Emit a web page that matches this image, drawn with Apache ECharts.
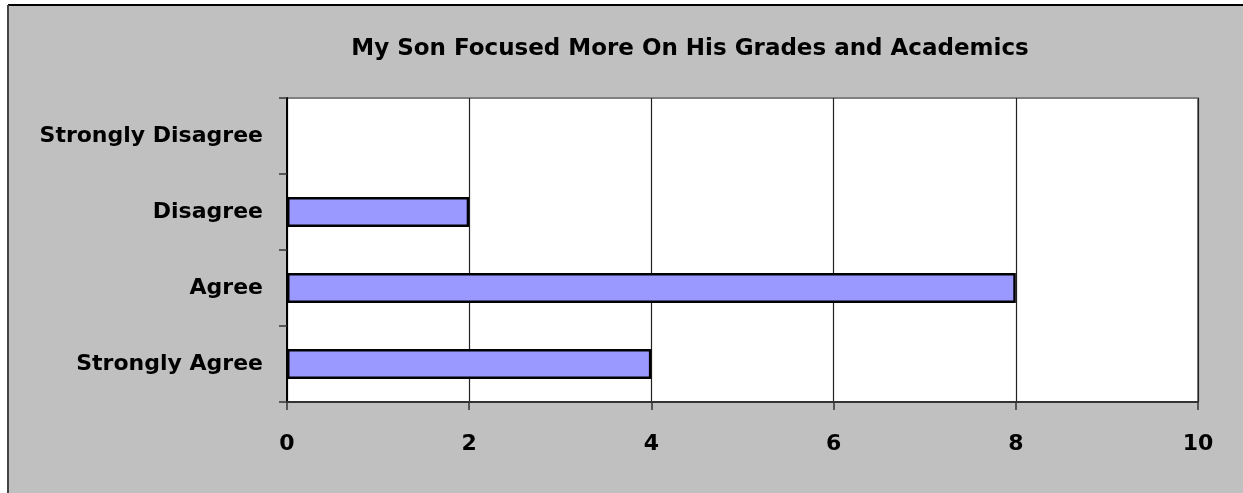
<!DOCTYPE html>
<html>
<head>
<meta charset="utf-8">
<style>html,body{margin:0;padding:0;background:#fff;}#c{width:1243px;height:493px;}</style>
<script src="https://cdn.jsdelivr.net/npm/echarts@6/dist/echarts.min.js"></script>
</head>
<body>
<div id="c"></div>
<script>
var titleText = 'My Son Focused More On His Grades and Academics';
var categories = ['Strongly Disagree', 'Disagree', 'Agree', 'Strongly Agree'];
var values = [0, 2, 8, 4];
var xTicks = { min: 0, max: 10, interval: 2 };

var FONT = '"DejaVu Sans", Arial, sans-serif';
var chart = echarts.init(document.getElementById('c'), null, { renderer: 'canvas' });
chart.setOption({
  animation: false,
  backgroundColor: '#fff',
  graphic: [
    { type: 'rect', z: -10, silent: true,
      shape: { x: 8, y: 5, width: 1300, height: 600 },
      style: { fill: '#C0C0C0' } },
    { type: 'line', z: -9, silent: true,
      shape: { x1: 8, y1: 5, x2: 1243, y2: 5 },
      style: { stroke: '#000', lineWidth: 2 } },
    { type: 'line', z: -9, silent: true,
      shape: { x1: 8, y1: 5, x2: 8, y2: 493 },
      style: { stroke: '#444', lineWidth: 2 } }
  ],
  title: {
    text: titleText,
    left: 685, top: 33, textAlign: 'center',
    textStyle: { fontFamily: FONT, fontWeight: 'bold', fontSize: 23, color: '#000' }
  },
  grid: {
    left: 287, right: 45, top: 98, bottom: 91,
    show: true, backgroundColor: '#fff', borderColor: '#808080', borderWidth: 2
  },
  xAxis: {
    type: 'value', min: xTicks.min, max: xTicks.max, interval: xTicks.interval,
    axisLine: { show: true, lineStyle: { color: '#333', width: 2 } },
    axisTick: { show: true, length: 8, lineStyle: { color: '#333', width: 1.5 } },
    splitLine: { show: true, lineStyle: { color: '#222', width: 1.2 } },
    axisLabel: { margin: 31, fontFamily: FONT, fontWeight: 'bold', fontSize: 22, color: '#000' }
  },
  yAxis: {
    type: 'category', data: categories, inverse: true,
    axisLine: { show: true, lineStyle: { color: '#000', width: 2 } },
    axisTick: { show: true, length: 8, alignWithLabel: false, lineStyle: { color: '#333', width: 1.5 } },
    splitLine: { show: false },
    axisLabel: { margin: 24, fontFamily: FONT, fontWeight: 'bold', fontSize: 22, color: '#000' }
  },
  series: [{
    type: 'bar', barWidth: 30,
    data: values.map(function (v) {
      return v === 0 ? { value: v, itemStyle: { borderWidth: 0 } } : v;
    }),
    itemStyle: { color: '#9999FF', borderColor: '#000', borderWidth: 2.5 }
  }]
});
</script>
</body>
</html>
